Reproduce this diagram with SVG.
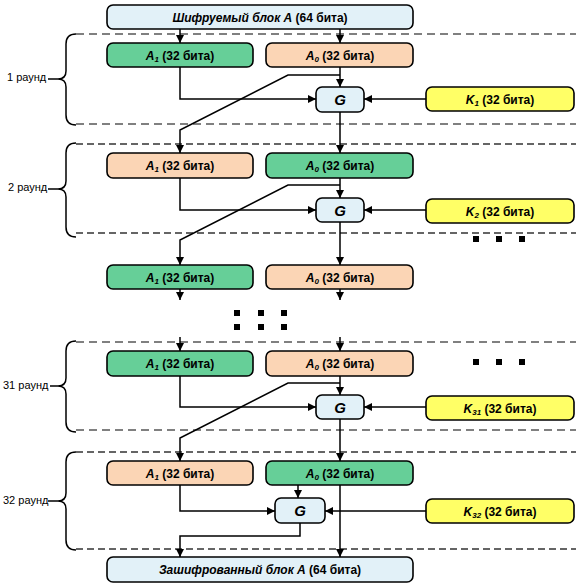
<svg xmlns="http://www.w3.org/2000/svg" width="579" height="587" viewBox="0 0 579 587">
<style>
.bx{stroke:#000;stroke-width:1.6}
.blue{fill:#E2F1F8}
.grn{fill:#66CF98}
.pch{fill:#FBD5B5}
.yel{fill:#FFFF66}
.t{font-family:"Liberation Sans",Arial,sans-serif;font-size:12px;font-weight:bold;text-anchor:middle;fill:#000}
.i{font-style:italic}
.sub{font-size:8px;font-style:italic}
.g{font-family:"Liberation Sans",Arial,sans-serif;font-size:15px;font-weight:bold;font-style:italic;text-anchor:middle}
.lbl{font-family:"Liberation Sans",Arial,sans-serif;font-size:11px;fill:#000}
.ln{fill:none;stroke:#000;stroke-width:1.5}
.ar{fill:none;stroke:#000;stroke-width:1.5;marker-end:url(#ah)}
.d1{stroke:#808080;stroke-width:2;stroke-dasharray:8 5;fill:none}
.d2{stroke:#333;stroke-width:1.3;stroke-dasharray:7 4;fill:none}
.br{fill:none;stroke:#000;stroke-width:1.5}
</style>
<defs>
<marker id="ah" markerUnits="userSpaceOnUse" markerWidth="8" markerHeight="8" refX="8" refY="4" orient="auto">
<path d="M0,0 L8,4 L0,8 z" fill="#000"/>
</marker>
</defs>

<g id="rounds">
<line class="d1" x1="76" y1="34" x2="576" y2="34"/>
<line class="d1" x1="76" y1="124" x2="576" y2="124"/>
<line class="d2" x1="76" y1="144" x2="576" y2="144"/>
<line class="d2" x1="76" y1="233" x2="576" y2="233"/>
<line class="d1" x1="76" y1="342" x2="576" y2="342"/>
<line class="d1" x1="76" y1="430" x2="576" y2="430"/>
<line class="d2" x1="76" y1="452" x2="576" y2="452"/>
<line class="d2" x1="76" y1="549" x2="576" y2="549"/>
<path class="br" d="M76 34 Q66 34 66 44 L66 71 Q66 79 58 79 L48 79 M58 79 Q66 79 66 87 L66 115 Q66 125 76 125"/>
<text class="lbl" x="7" y="81">1 раунд</text>
<path class="br" d="M76 143 Q66 143 66 153 L66 181 Q66 189 58 189 L48 189 M58 189 Q66 189 66 197 L66 227 Q66 237 76 237"/>
<text class="lbl" x="8" y="191">2 раунд</text>
<path class="br" d="M76 341 Q66 341 66 351 L66 378 Q66 386 58 386 L50 386 M58 386 Q66 386 66 394 L66 422 Q66 432 76 432"/>
<text class="lbl" x="3" y="389">31 раунд</text>
<path class="br" d="M76 452 Q66 452 66 462 L66 493 Q66 501 58 501 L48 501 M58 501 Q66 501 66 509 L66 540 Q66 550 76 550"/>
<text class="lbl" x="3" y="504">32 раунд</text>
</g>

<g id="connectors">
<!-- top -->
<line class="ar" x1="180" y1="29" x2="180" y2="43"/>
<line class="ar" x1="340" y1="29" x2="340" y2="43"/>
<!-- round 1 -->
<polyline class="ar" points="180,67 180,99 316,99"/>
<line class="ar" x1="340" y1="67" x2="340" y2="87"/>
<line class="ar" x1="426" y1="99" x2="364" y2="99"/>
<polyline class="ar" points="340,75 288,75 180,130 180,153"/>
<line class="ar" x1="340" y1="112" x2="340" y2="153"/>
<!-- round 2 -->
<polyline class="ar" points="180,178 180,210 316,210"/>
<line class="ar" x1="340" y1="178" x2="340" y2="198"/>
<line class="ar" x1="426" y1="210" x2="364" y2="210"/>
<polyline class="ar" points="340,185 288,185 180,240 180,265"/>
<line class="ar" x1="340" y1="222" x2="340" y2="265"/>
<!-- after row 3 -->
<line class="ar" x1="180" y1="289" x2="180" y2="300"/>
<line class="ar" x1="340" y1="289" x2="340" y2="300"/>
<line class="ar" x1="180" y1="337" x2="180" y2="351"/>
<line class="ar" x1="340" y1="337" x2="340" y2="351"/>
<!-- round 31 -->
<polyline class="ar" points="180,376 180,407 316,407"/>
<line class="ar" x1="340" y1="376" x2="340" y2="395"/>
<line class="ar" x1="426" y1="407" x2="364" y2="407"/>
<polyline class="ar" points="340,383 288,383 180,438 180,461"/>
<line class="ar" x1="340" y1="419" x2="340" y2="461"/>
<!-- round 32 -->
<polyline class="ar" points="180,485 180,511 275,511"/>
<line class="ar" x1="298" y1="485" x2="298" y2="498"/>
<line class="ar" x1="426" y1="511" x2="325" y2="511"/>
<line class="ar" x1="340" y1="485" x2="340" y2="557"/>
<polyline class="ar" points="300,523 300,536 180,536 180,557"/>
</g>

<g id="dots">
<rect x="234" y="310" width="6" height="6"/>
<rect x="258" y="310" width="6" height="6"/>
<rect x="281" y="310" width="6" height="6"/>
<rect x="234" y="324" width="6" height="6"/>
<rect x="258" y="324" width="6" height="6"/>
<rect x="281" y="324" width="6" height="6"/>
<rect x="473" y="236" width="6" height="6"/>
<rect x="496" y="236" width="6" height="6"/>
<rect x="519" y="236" width="6" height="6"/>
<rect x="473" y="359" width="6" height="6"/>
<rect x="496" y="359" width="6" height="6"/>
<rect x="519" y="359" width="6" height="6"/>
</g>

<g id="input">
<rect class="bx blue" x="107" y="5" width="306" height="24" rx="6"/>
<text class="t" x="260" y="21.5"><tspan class="i">Шифруемый блок А</tspan> (64 бита)</text>
</g>

<g id="r1a1"><rect class="bx grn" x="107" y="43" width="146" height="24" rx="6"/>
<text class="t" x="180" y="59.5"><tspan class="i">A</tspan><tspan class="sub" dy="2">1</tspan><tspan dy="-2"> (32 бита)</tspan></text></g>
<g id="r1a0"><rect class="bx pch" x="266" y="43" width="147" height="24" rx="6"/>
<text class="t" x="340" y="59.5"><tspan class="i">A</tspan><tspan class="sub" dy="2">0</tspan><tspan dy="-2"> (32 бита)</tspan></text></g>
<g id="r1g"><rect class="bx blue" x="316" y="87" width="48" height="25" rx="6"/>
<text class="g" x="340" y="105">G</text></g>
<g id="k1"><rect class="bx yel" x="426" y="87" width="148" height="24" rx="6"/>
<text class="t" x="500" y="103.5"><tspan class="i">K</tspan><tspan class="sub" dy="2">1</tspan><tspan dy="-2"> (32 бита)</tspan></text></g>

<g id="r2a1"><rect class="bx pch" x="107" y="153" width="146" height="25" rx="6"/>
<text class="t" x="180" y="170"><tspan class="i">A</tspan><tspan class="sub" dy="2">1</tspan><tspan dy="-2"> (32 бита)</tspan></text></g>
<g id="r2a0"><rect class="bx grn" x="266" y="153" width="147" height="25" rx="6"/>
<text class="t" x="340" y="170"><tspan class="i">A</tspan><tspan class="sub" dy="2">0</tspan><tspan dy="-2"> (32 бита)</tspan></text></g>
<g id="r2g"><rect class="bx blue" x="316" y="198" width="48" height="24" rx="6"/>
<text class="g" x="340" y="215.5">G</text></g>
<g id="k2"><rect class="bx yel" x="426" y="199" width="148" height="24" rx="6"/>
<text class="t" x="500" y="215.5"><tspan class="i">K</tspan><tspan class="sub" dy="2">2</tspan><tspan dy="-2"> (32 бита)</tspan></text></g>

<g id="r3a1"><rect class="bx grn" x="107" y="265" width="146" height="24" rx="6"/>
<text class="t" x="180" y="281.5"><tspan class="i">A</tspan><tspan class="sub" dy="2">1</tspan><tspan dy="-2"> (32 бита)</tspan></text></g>
<g id="r3a0"><rect class="bx pch" x="266" y="265" width="147" height="24" rx="6"/>
<text class="t" x="340" y="281.5"><tspan class="i">A</tspan><tspan class="sub" dy="2">0</tspan><tspan dy="-2"> (32 бита)</tspan></text></g>

<g id="r31a1"><rect class="bx grn" x="107" y="351" width="146" height="25" rx="6"/>
<text class="t" x="180" y="368"><tspan class="i">A</tspan><tspan class="sub" dy="2">1</tspan><tspan dy="-2"> (32 бита)</tspan></text></g>
<g id="r31a0"><rect class="bx pch" x="266" y="351" width="147" height="25" rx="6"/>
<text class="t" x="340" y="368"><tspan class="i">A</tspan><tspan class="sub" dy="2">0</tspan><tspan dy="-2"> (32 бита)</tspan></text></g>
<g id="r31g"><rect class="bx blue" x="316" y="395" width="48" height="24" rx="6"/>
<text class="g" x="340" y="412.5">G</text></g>
<g id="k31"><rect class="bx yel" x="426" y="396" width="148" height="24" rx="6"/>
<text class="t" x="500" y="412.5"><tspan class="i">K</tspan><tspan class="sub" dy="2">31</tspan><tspan dy="-2"> (32 бита)</tspan></text></g>

<g id="r32a1"><rect class="bx pch" x="107" y="461" width="146" height="24" rx="6"/>
<text class="t" x="180" y="477.5"><tspan class="i">A</tspan><tspan class="sub" dy="2">1</tspan><tspan dy="-2"> (32 бита)</tspan></text></g>
<g id="r32a0"><rect class="bx grn" x="266" y="461" width="147" height="24" rx="6"/>
<text class="t" x="340" y="477.5"><tspan class="i">A</tspan><tspan class="sub" dy="2">0</tspan><tspan dy="-2"> (32 бита)</tspan></text></g>
<g id="r32g"><rect class="bx blue" x="275" y="498" width="50" height="25" rx="6"/>
<text class="g" x="300" y="516">G</text></g>
<g id="k32"><rect class="bx yel" x="426" y="499" width="148" height="24" rx="6"/>
<text class="t" x="500" y="515.5"><tspan class="i">K</tspan><tspan class="sub" dy="2">32</tspan><tspan dy="-2"> (32 бита)</tspan></text></g>

<g id="output">
<rect class="bx blue" x="107" y="557" width="306" height="25" rx="6"/>
<text class="t" x="260" y="574"><tspan class="i">Зашифрованный блок А</tspan> (64 бита)</text>
</g>
</svg>
